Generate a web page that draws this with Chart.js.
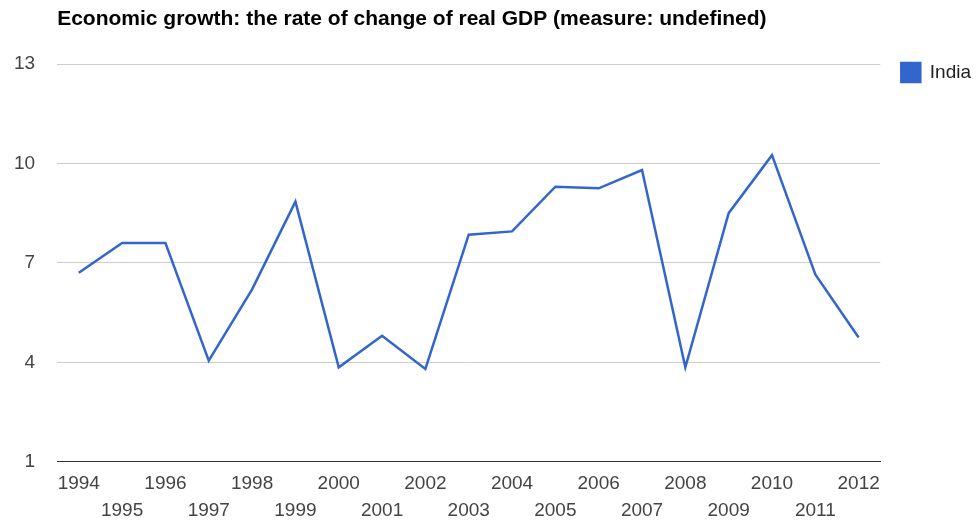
<!DOCTYPE html>
<html>
<head>
<meta charset="utf-8">
<script src="https://cdn.jsdelivr.net/npm/chart.js@4"></script>
<style>
  html, body { margin: 0; padding: 0; background: #fff; }
  #wrap { width: 977px; height: 523px; position: relative; }
</style>
</head>
<body>
<div id="wrap"><canvas id="gdpChart"></canvas></div>
<script>
// years on the x axis
var years = ["1994", "1995", "1996", "1997", "1998", "1999", "2000", "2001", "2002", "2003",
  "2004", "2005", "2006", "2007", "2008", "2009", "2010", "2011", "2012"];
// real GDP growth, India (%)
var india = [6.7, 7.6, 7.6, 4.05, 6.2, 8.85, 3.85, 4.8, 3.8, 7.85,
  7.95, 9.3, 9.25, 9.8, 3.85, 8.5, 10.25, 6.65, 4.75];
// y axis ticks
var yTicks = [1, 4, 7, 10, 13];

var titleText = "Economic growth: the rate of change of real GDP (measure: undefined)";
var fontFam = "'Liberation Sans', Arial, sans-serif";

// title drawn at the left edge of the plot area
var leftTitle = {
  id: 'leftTitle',
  afterDraw: function (chart) {
    var c = chart.ctx;
    c.save();
    c.font = "bold 21px " + fontFam;
    c.fillStyle = '#000';
    c.textBaseline = 'middle';
    c.textAlign = 'left';
    c.fillText(titleText, chart.chartArea.left, 19);
    c.restore();
  }
};

// move the legend a little: next to the plot, level with its top line
var legendNudge = {
  id: 'legendNudge',
  afterLayout: function (chart) {
    var lg = chart.legend;
    var w = lg.width, h = lg.height;
    lg.left = chart.chartArea.right + 11;
    lg.right = lg.left + w;
    lg.top = chart.chartArea.top - 11;
    lg.bottom = lg.top + h;
  }
};

var ctx = document.getElementById("gdpChart");
var myChart = new Chart(ctx, {
  type: 'line',
  data: {
    labels: years,
    datasets: [{
      label: "India",
      data: india,
      borderColor: "#3366cc",
      backgroundColor: "#3366cc",
      borderWidth: 2.5,
      pointRadius: 0,
      tension: 0,
      fill: false
    }]
  },
  options: {
    responsive: true,
    maintainAspectRatio: false,
    animation: false,
    layout: {
      padding: { top: 64, left: -8, right: 7, bottom: -10 }
    },
    plugins: {
      title: { display: false },
      tooltip: { enabled: false },
      legend: {
        position: 'right',
        align: 'start',
        labels: {
          boxWidth: 19,
          boxHeight: 19,
          padding: 10,
          color: '#222',
          font: { family: fontFam, size: 19 }
        }
      }
    },
    scales: {
      x: {
        offset: true,
        grid: { display: false, drawTicks: false, tickLength: 0 },
        border: { display: true, color: '#333', width: 1 },
        ticks: {
          autoSkip: false,
          maxRotation: 0,
          minRotation: 0,
          padding: 9,
          color: '#444',
          font: { family: fontFam, size: 19, lineHeight: 1.4 },
          callback: function (value, index) {
            var lab = this.getLabelForValue(value);
            return index % 2 === 1 ? ['', lab] : lab;
          }
        }
      },
      y: {
        min: 1,
        max: 13,
        afterBuildTicks: function (axis) {
          axis.ticks = yTicks.map(function (v) { return { value: v }; });
        },
        grid: {
          color: function (c) { return c.tick && c.tick.value === 1 ? '#333' : '#cccccc'; },
          drawTicks: false
        },
        border: { display: false },
        ticks: {
          padding: 22,
          color: '#444',
          font: { family: fontFam, size: 19 }
        }
      }
    }
  },
  plugins: [leftTitle, legendNudge]
});
</script>
</body>
</html>
